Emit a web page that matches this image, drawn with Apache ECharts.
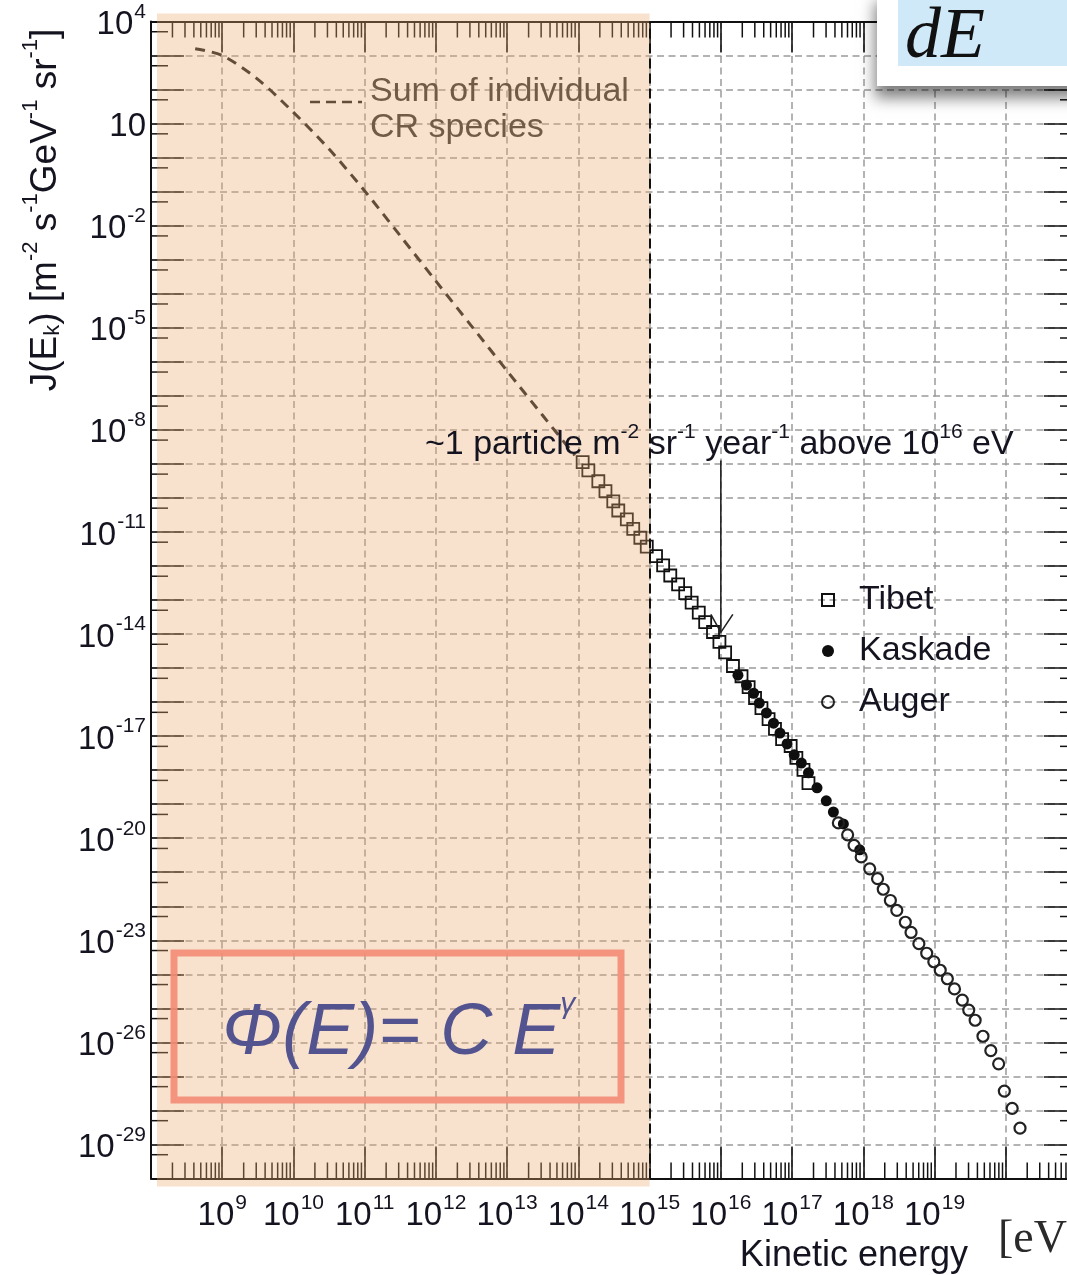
<!DOCTYPE html>
<html>
<head>
<meta charset="utf-8">
<title>Cosmic ray spectrum</title>
<script src="https://cdn.jsdelivr.net/npm/echarts@6/dist/echarts.min.js"></script>
<style>
  html, body { margin: 0; padding: 0; background: #fff; overflow: hidden; }
  #chart { width: 1067px; height: 1275px; }
</style>
</head>
<body>
<div id="chart"></div>
<script>
// everything is kept as log10 values: E in eV, J in m^-2 s^-1 GeV^-1 sr^-1
const X_MIN = 8, X_MAX = 21, Y_MIN = -30, Y_MAX = 4;
const xLabelExps = [9, 10, 11, 12, 13, 14, 15, 16, 17, 18, 19];
const yLabelExps = [4, 1, -2, -5, -8, -11, -14, -17, -20, -23, -26, -29];

// "Sum of individual CR species" (dashed)
const sumLogE = [8.62, 9.0, 9.5, 10.0, 10.5, 11.0, 11.5, 12.0, 12.5, 13.0, 13.5, 13.95];
const sumLogJ = [3.2, 3.0, 2.3, 1.33, 0.25, -0.98, -2.3, -3.63, -4.95, -6.27, -7.58, -8.75];

const tibetLogE = [14.06, 14.14, 14.28, 14.38, 14.49, 14.56, 14.68, 14.77, 14.87, 14.96, 15.09,
  15.19, 15.29, 15.40, 15.50, 15.59, 15.69, 15.78, 15.89, 15.98, 16.06, 16.17, 16.29, 16.39,
  16.48, 16.57, 16.67, 16.76, 16.86, 16.98, 17.06, 17.16, 17.23];
const tibetLogJ = [-8.95, -9.19, -9.51, -9.80, -10.10, -10.37, -10.63, -10.91, -11.17, -11.43, -11.71,
  -11.98, -12.28, -12.54, -12.80, -13.08, -13.37, -13.65, -13.94, -14.23, -14.54, -14.94, -15.24, -15.56,
  -15.88, -16.18, -16.50, -16.79, -17.09, -17.29, -17.64, -17.99, -18.38];

const kaskadeLogE = [16.24, 16.36, 16.46, 16.54, 16.64, 16.74, 16.83, 16.93, 17.03, 17.13, 17.23,
  17.35, 17.48, 17.58, 17.72, 17.95];
const kaskadeLogJ = [-15.21, -15.50, -15.74, -16.03, -16.32, -16.62, -16.91, -17.23, -17.55, -17.79, -18.08,
  -18.52, -18.90, -19.23, -19.58, -20.34];

const augerLogE = [17.65, 17.78, 17.87, 17.97, 18.09, 18.20, 18.28, 18.38, 18.47, 18.59, 18.67, 18.78, 18.89,
  18.99, 19.08, 19.18, 19.28, 19.39, 19.48, 19.57, 19.68, 19.79, 19.90, 19.98, 20.09, 20.20];
const augerLogJ = [-19.55, -19.90, -20.21, -20.55, -20.90, -21.19, -21.50, -21.83, -22.12, -22.47, -22.77, -23.10, -23.38,
  -23.63, -23.88, -24.13, -24.43, -24.76, -25.05, -25.35, -25.82, -26.24, -26.63, -27.43, -27.94, -28.52];

// arrow "~1 particle ... above 10^16 eV"
const arrowLogE = 16, arrowFromLogJ = -8.9, arrowToLogJ = -13.95;
const shadeToLogE = 15;

const FONT = "'Liberation Sans', Arial, Helvetica, sans-serif";
const TXT = '#141420';
const zip = (a, b) => a.map((v, i) => [v, b[i]]);

// minor tick positions (2..9 x 10^k on x, 5 x 10^k on y)
const xMinorTicks = [];
for (let k = X_MIN; k < X_MAX; k++) for (let m = 2; m <= 9; m++) xMinorTicks.push(k + Math.log10(m));
const yMinorTicks = [];
for (let k = Y_MIN; k < Y_MAX; k++) yMinorTicks.push(k + Math.log10(5));

const chart = echarts.init(document.getElementById('chart'));

const tickLine = {lineStyle: {color: '#111', width: 1.6}};
const axisLine = {onZero: false, lineStyle: {color: '#111', width: 2}};
const gridLine = {show: true, lineStyle: {color: '#9a9a9a', width: 1.5, type: [7, 4.5]}};
const labelRich = {
    b: {fontFamily: FONT, fontSize: 33, color: TXT, lineHeight: 40, verticalAlign: 'bottom'},
    s: {fontFamily: FONT, fontSize: 21, color: TXT, verticalAlign: 'top', padding: [0, 0, 0, 1]}
};

const option = {
    backgroundColor: '#fff',
    animation: false,
    grid: {left: 151, top: 21.5, width: 926, height: 1157, outerBoundsMode: 'none'},
    legend: {
        data: ['Tibet', 'Kaskade', 'Auger'],
        orient: 'vertical',
        left: 816, top: 578,
        itemWidth: 12, itemHeight: 12, itemGap: 17,
        textStyle: {fontFamily: FONT, fontSize: 34, color: TXT, padding: [0, 0, 0, 20]}
    },
    xAxis: [
        {
            type: 'value', position: 'bottom', min: X_MIN, max: X_MAX, interval: 1,
            axisLine: axisLine,
            axisTick: Object.assign({inside: true, length: 32}, tickLine),
            splitLine: gridLine,
            axisLabel: {
                margin: 14,
                formatter: v => xLabelExps.includes(Math.round(v)) ? '{b|10}{s|' + Math.round(v) + '}' : '',
                rich: labelRich
            }
        },
        {
            type: 'value', position: 'top', min: X_MIN, max: X_MAX, interval: 1,
            axisLine: axisLine,
            axisTick: Object.assign({inside: true, length: 31}, tickLine),
            splitLine: {show: false},
            axisLabel: {show: false}
        }
    ],
    yAxis: [
        {
            type: 'value', position: 'left', min: Y_MIN, max: Y_MAX, interval: 1,
            axisLine: axisLine,
            axisTick: Object.assign({inside: true, length: 33}, tickLine),
            splitLine: gridLine,
            axisLabel: {
                margin: 5,
                formatter: v => {
                    const e = Math.round(v);
                    if (!yLabelExps.includes(e)) return '';
                    return e === 1 ? '{b|10}' : '{b|10}{s|' + e + '}';
                },
                rich: labelRich
            }
        },
        {
            type: 'value', position: 'right', min: Y_MIN, max: Y_MAX, interval: 1,
            axisLine: axisLine,
            axisTick: Object.assign({inside: true, length: 33}, tickLine),
            splitLine: {show: false},
            axisLabel: {show: false}
        }
    ],
    series: [
        {
            name: 'xMinor', type: 'custom', silent: true, z: 3,
            data: xMinorTicks.map(v => [v, Y_MIN]),
            renderItem: (params, api) => {
                const b = api.coord([api.value(0), Y_MIN]);
                const t = api.coord([api.value(0), Y_MAX]);
                const st = {stroke: '#111', lineWidth: 1.5};
                return {type: 'group', children: [
                    {type: 'line', shape: {x1: b[0], y1: b[1], x2: b[0], y2: b[1] - 16}, style: st},
                    {type: 'line', shape: {x1: t[0], y1: t[1], x2: t[0], y2: t[1] + 16}, style: st}
                ]};
            }
        },
        {
            name: 'yMinor', type: 'custom', silent: true, z: 3,
            data: yMinorTicks.map(v => [X_MIN, v]),
            renderItem: (params, api) => {
                const l = api.coord([X_MIN, api.value(1)]);
                const r = api.coord([X_MAX, api.value(1)]);
                const st = {stroke: '#111', lineWidth: 1.5};
                return {type: 'group', children: [
                    {type: 'line', shape: {x1: l[0], y1: l[1], x2: l[0] + 17, y2: l[1]}, style: st},
                    {type: 'line', shape: {x1: r[0], y1: r[1], x2: r[0] - 17, y2: r[1]}, style: st}
                ]};
            }
        },
        {
            name: 'Sum of individual CR species', type: 'line', smooth: 0.3, z: 3,
            data: zip(sumLogE, sumLogJ),
            showSymbol: false, silent: true,
            lineStyle: {color: '#1e1e1e', width: 3, type: [10, 7]}
        },
        {
            name: 'Kaskade', type: 'scatter', z: 4, silent: true,
            data: zip(kaskadeLogE, kaskadeLogJ),
            symbol: 'circle', symbolSize: 11,
            itemStyle: {color: '#0e0e0e', opacity: 1}
        },
        {
            name: 'Tibet', type: 'scatter', z: 5, silent: true,
            data: zip(tibetLogE, tibetLogJ),
            symbol: 'rect', symbolSize: 12,
            itemStyle: {color: 'rgba(255,255,255,0)', borderColor: '#111', borderWidth: 1.8, opacity: 1},
            markLine: {
                silent: true, z: 60, symbol: ['none', 'none'],
                label: {show: false},
                lineStyle: {color: '#111', width: 2, type: [10, 5]},
                data: [{xAxis: shadeToLogE}]
            }
        },
        {
            name: 'Auger', type: 'scatter', z: 4, silent: true,
            data: zip(augerLogE, augerLogJ),
            symbol: 'circle', symbolSize: 11,
            itemStyle: {color: 'rgba(255,255,255,0)', borderColor: '#222', borderWidth: 2.2, opacity: 1}
        }
    ]
};

chart.setOption(option);

// annotations placed from data coordinates
const px = (x, y) => chart.convertToPixel({xAxisIndex: 0, yAxisIndex: 0}, [x, y]);
const shTL = px(X_MIN, Y_MAX), shBR = px(shadeToLogE, Y_MIN);
const aFrom = px(arrowLogE, arrowFromLogJ), aTo = px(arrowLogE, arrowToLogJ);
const supRich = {
    b: {fontFamily: FONT, fontSize: 37, fill: TXT, lineHeight: 44, verticalAlign: 'bottom'},
    s: {fontFamily: FONT, fontSize: 22, fill: TXT, verticalAlign: 'top'},
    k: {fontFamily: FONT, fontSize: 22, fill: TXT, verticalAlign: 'bottom'}
};

chart.setOption({
    graphic: [
        // y-axis title
        {
            type: 'text', x: 42, y: 210, rotation: Math.PI / 2, silent: true,
            style: {
                text: '{b|J(E}{k|k}{b|) [m}{s|-2}{b| s}{s|-1}{b|GeV}{s|-1}{b| sr}{s|-1}{b|]}',
                rich: supRich, align: 'center', verticalAlign: 'middle'
            }
        },
        {
            type: 'text', x: 968, y: 1256, silent: true,
            style: {text: 'Kinetic energy', font: '36px ' + FONT, fill: TXT, align: 'right', verticalAlign: 'middle'}
        },
        {
            type: 'text', x: 998, y: 1240, silent: true,
            style: {text: '[eV]', font: '46px "Liberation Serif", "Times New Roman", serif', fill: '#2a2a2a', align: 'left', verticalAlign: 'middle'}
        },
        // legend-like key for the dashed curve
        {
            type: 'line', silent: true, z: 10,
            shape: {x1: 310, y1: 102, x2: 362, y2: 102},
            style: {stroke: '#1e1e1e', lineWidth: 2.5, lineDash: [10, 6]}
        },
        {
            type: 'text', x: 370, y: 110, silent: true, z: 10,
            style: {text: 'Sum of individual\nCR species', font: '34px ' + FONT, fill: '#333',
                lineHeight: 36, align: 'left', verticalAlign: 'middle'}
        },
        // shaded low-energy region
        {
            type: 'rect', silent: true, z: 50,
            shape: {x: shTL[0] + 6, y: shTL[1] - 8, width: shBR[0] - shTL[0] - 6, height: shBR[1] - shTL[1] + 16},
            style: {fill: 'rgba(235,170,111,0.34)'}
        },
        // formula box
        {
            type: 'rect', silent: true, z: 70,
            shape: {x: 174, y: 953, width: 447, height: 147},
            style: {fill: 'none', stroke: 'rgba(243,140,118,0.9)', lineWidth: 7}
        },
        {
            type: 'text', x: 222, y: 1030, silent: true, z: 71,
            style: {
                text: '{t|Φ(E)= C E}{g|γ}',
                rich: {
                    t: {fontFamily: FONT, fontStyle: 'italic', fontSize: 72, fill: '#52538f', lineHeight: 80, verticalAlign: 'bottom'},
                    g: {fontFamily: FONT, fontStyle: 'italic', fontSize: 30, fill: '#52538f', verticalAlign: 'top'}
                },
                align: 'left', verticalAlign: 'middle'
            }
        },
        // annotation + arrow
        {
            type: 'text', x: 425, y: 442, silent: true, z: 80,
            style: {
                text: '{b|~1 particle m}{s|-2}{b| sr}{s|-1}{b| year}{s|-1}{b| above 10}{s|16}{b| eV}',
                rich: {
                    b: {fontFamily: FONT, fontSize: 34, fill: TXT, lineHeight: 40, verticalAlign: 'bottom'},
                    s: {fontFamily: FONT, fontSize: 21, fill: TXT, verticalAlign: 'top'}
                },
                align: 'left', verticalAlign: 'middle'
            }
        },
        {
            type: 'polyline', silent: true, z: 80,
            shape: {points: [aFrom, aTo]},
            style: {stroke: '#222', lineWidth: 1.6, fill: null}
        },
        {
            type: 'polyline', silent: true, z: 80,
            shape: {points: [[aTo[0] - 10, aTo[1] - 18], aTo, [aTo[0] + 12, aTo[1] - 18]]},
            style: {stroke: '#222', lineWidth: 1.6, fill: null}
        },
        // "dE" panel in the top right corner
        {
            type: 'rect', silent: true, z: 100,
            shape: {x: 877, y: -10, width: 220, height: 96},
            style: {fill: '#fff', shadowBlur: 14, shadowOffsetX: -2, shadowOffsetY: 12, shadowColor: 'rgba(0,0,0,0.5)'}
        },
        {
            type: 'rect', silent: true, z: 101,
            shape: {x: 898, y: -10, width: 200, height: 76},
            style: {fill: '#cfe9f9'}
        },
        {
            type: 'text', x: 905, y: 38, silent: true, z: 102,
            style: {text: 'dE', font: 'italic 72px "Liberation Serif", "Times New Roman", serif', fill: '#111',
                align: 'left', verticalAlign: 'middle'}
        }
    ]
});
</script>
</body>
</html>
